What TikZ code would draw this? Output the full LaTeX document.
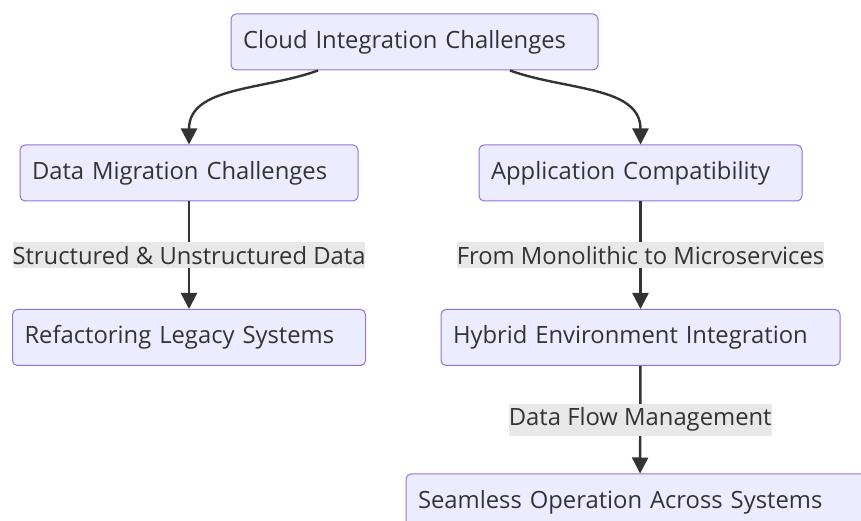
\documentclass[tikz,border=0pt]{standalone}
\usepackage{fontspec}
\setmainfont{Open Sans}
\usetikzlibrary{arrows.meta}
\definecolor{boxfill}{HTML}{ECECFF}
\definecolor{boxline}{HTML}{9370DB}
\definecolor{ink}{HTML}{333333}
\definecolor{lblfill}{HTML}{E8E8E8}
\begin{document}
\begin{tikzpicture}
[x=1pt,y=1pt,
box/.style={rectangle,rounded corners=5pt,draw=boxline,fill=boxfill,line width=1pt,
  minimum height=56pt,inner xsep=12pt,inner ysep=0pt,align=left,text=ink,font=\fontsize{23.8}{27}\selectfont},
lbl/.style={rectangle,fill=lblfill,inner xsep=0pt,inner ysep=4pt,text=ink,font=\fontsize{23.8}{27}\selectfont},
flow/.style={draw=ink,line width=2.4pt,-{Triangle[length=16pt,width=16pt]}}]
\useasboundingbox (0,0) rectangle (861,521);
\node[box,text width=343pt] (Cloud) at (414.5,479) {Cloud Integration Challenges};
\node[box,text width=314pt] (DataMig) at (189,348) {Data Migration Challenges};
\node[box,text width=299pt] (AppCompat) at (640.5,348) {Application Compatibility};
\node[box,text width=329pt] (Refactor) at (189,183.5) {Refactoring Legacy Systems};
\node[box,text width=375pt] (Hybrid) at (640.5,183.5) {Hybrid Environment Integration};
\node[box,text width=444pt] (Seamless) at (640,19) {Seamless Operation Across Systems};
\path ([xshift=-96.5pt]Cloud.south) edge[flow,out=200,in=90] (DataMig.north)
			([xshift=95.5pt]Cloud.south) edge[flow,out=-20,in=90] (AppCompat.north)
			(DataMig) edge[flow] node[lbl] {Structured \& Unstructured Data} (Refactor)
			(AppCompat) edge[flow] node[lbl] {From Monolithic to Microservices} (Hybrid)
			(Hybrid) edge[flow] node[lbl] {Data Flow Management} (Seamless);
\end{tikzpicture}
\end{document}
